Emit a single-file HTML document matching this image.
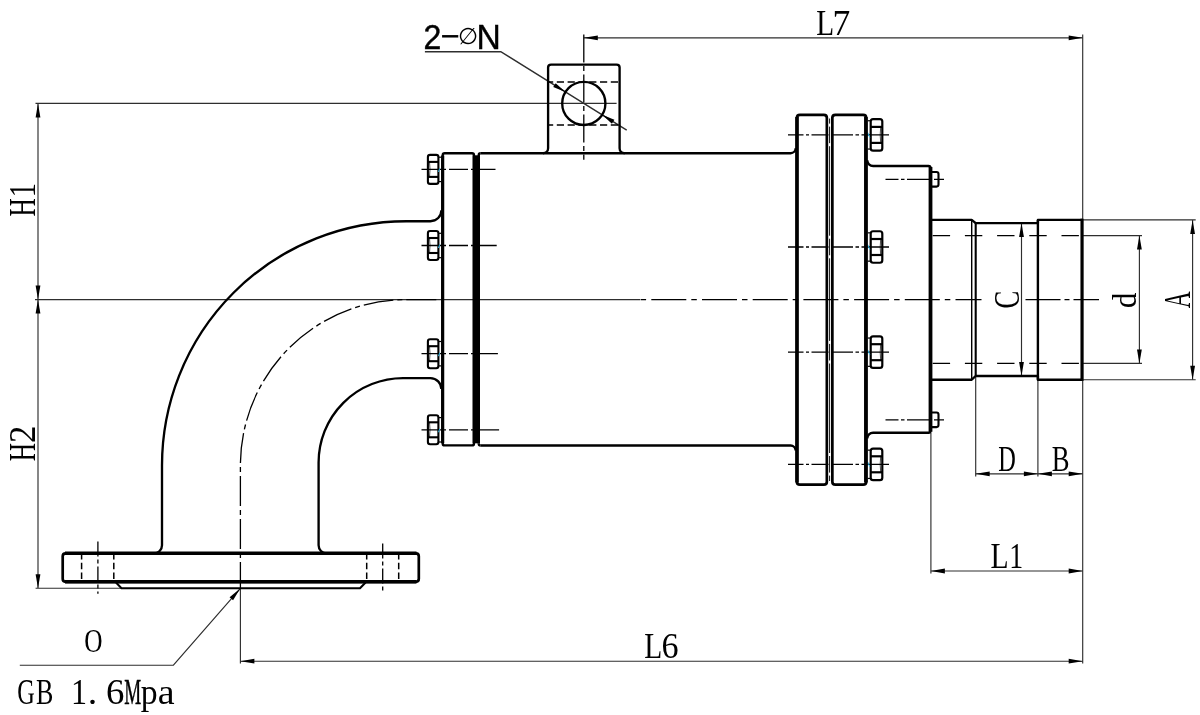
<!DOCTYPE html>
<html lang="en">
<head>
<meta charset="utf-8">
<title>Rotary joint - outline drawing</title>
<style>
html,body{margin:0;padding:0;background:#fff;}
body{width:1200px;height:715px;overflow:hidden;}
svg{display:block;}
.k{fill:none;stroke:#000;stroke-width:2.35;stroke-linecap:butt;stroke-linejoin:round;}
.k2{fill:none;stroke:#000;stroke-width:3.6;stroke-linejoin:round;}
.k3{fill:none;stroke:#000;stroke-width:2;stroke-linejoin:round;}
.n{fill:none;stroke:#000;stroke-width:2.1;stroke-linejoin:round;}
.t{fill:none;stroke:#2e2e2e;stroke-width:1.15;}
.c{fill:none;stroke:#000;stroke-width:1.3;}
.h{fill:none;stroke:#000;stroke-width:1.5;}
</style>
</head>
<body>
<svg width="1200" height="715" viewBox="0 0 1200 715">
<rect x="0" y="0" width="1200" height="715" fill="#fff"/>

<g id="dims">
<line x1="38" y1="103.4" x2="38" y2="588" class="t"/>
<line x1="35.5" y1="103.4" x2="616.6" y2="103.4" class="t"/>
<line x1="35" y1="299.6" x2="640" y2="299.6" class="t"/>
<line x1="35.6" y1="588.2" x2="121.5" y2="588.2" class="t"/>
<polygon points="38,103.4 40.4,117.4 35.6,117.4" fill="#000"/>
<polygon points="38,299.6 35.6,285.6 40.4,285.6" fill="#000"/>
<polygon points="38,299.6 40.4,313.6 35.6,313.6" fill="#000"/>
<polygon points="38,588.2 35.6,574.2 40.4,574.2" fill="#000"/>
<line x1="583.8" y1="37.8" x2="1082.7" y2="37.8" class="t"/>
<polygon points="583.8,37.8 597.8,35.4 597.8,40.2" fill="#000"/>
<polygon points="1082.7,37.8 1068.7,40.2 1068.7,35.4" fill="#000"/>
<line x1="1082.7" y1="34.6" x2="1082.7" y2="663.5" class="t"/>
<line x1="240.4" y1="661.2" x2="1082.7" y2="661.2" class="t"/>
<polygon points="240.4,661.2 254.4,658.8 254.4,663.6" fill="#000"/>
<polygon points="1082.7,661.2 1068.7,663.6 1068.7,658.8" fill="#000"/>
<line x1="240.4" y1="588" x2="240.4" y2="663.5" class="t"/>
<line x1="930.9" y1="571" x2="1082.7" y2="571" class="t"/>
<polygon points="930.9,571 944.9,568.6 944.9,573.4" fill="#000"/>
<polygon points="1082.7,571 1068.7,573.4 1068.7,568.6" fill="#000"/>
<line x1="930.9" y1="432.7" x2="930.9" y2="573.4" class="t"/>
<line x1="975.7" y1="473.8" x2="1082.7" y2="473.8" class="t"/>
<line x1="975.7" y1="376" x2="975.7" y2="476.4" class="t"/>
<line x1="1037.9" y1="379.7" x2="1037.9" y2="476.4" class="t"/>
<polygon points="975.7,473.8 989.7,471.4 989.7,476.2" fill="#000"/>
<polygon points="1037.9,473.8 1023.9,476.2 1023.9,471.4" fill="#000"/>
<polygon points="1037.9,473.8 1051.9,471.4 1051.9,476.2" fill="#000"/>
<polygon points="1082.7,473.8 1068.7,476.2 1068.7,471.4" fill="#000"/>
<line x1="1021.5" y1="223.1" x2="1021.5" y2="376" class="t"/>
<polygon points="1021.5,223.1 1023.9,237.1 1019.1,237.1" fill="#000"/>
<polygon points="1021.5,376 1019.1,362 1023.9,362" fill="#000"/>
<line x1="1139.4" y1="235.6" x2="1139.4" y2="363.4" class="t"/>
<polygon points="1139.4,235.6 1141.8,249.6 1137,249.6" fill="#000"/>
<polygon points="1139.4,363.4 1137,349.4 1141.8,349.4" fill="#000"/>
<line x1="1083" y1="235.6" x2="1142" y2="235.6" class="t"/>
<line x1="1083" y1="363.4" x2="1142" y2="363.4" class="t"/>
<line x1="1192.6" y1="219.9" x2="1192.6" y2="379.7" class="t"/>
<polygon points="1192.6,219.9 1195,233.9 1190.2,233.9" fill="#000"/>
<polygon points="1192.6,379.7 1190.2,365.7 1195,365.7" fill="#000"/>
<line x1="1083" y1="219.9" x2="1195.7" y2="219.9" class="t"/>
<line x1="1083" y1="379.7" x2="1195.7" y2="379.7" class="t"/>
<path d="M424.9 51.7 H500.8 L626.7 130.2" class="t" style="stroke-width:1.4"/>
<polygon points="565.47,91.97 553.22,87.05 555.66,83.14" fill="#000"/>
<polygon points="602.13,114.83 614.38,119.75 611.94,123.66" fill="#000"/>
<path d="M19.8 665.2 H173.4 L240.2 588.6" class="t"/>
<polygon points="240.2,588.6 233.06,600.29 229.59,597.26" fill="#000"/>
</g>
<g id="centre">
<line x1="640" y1="299.6" x2="981.5" y2="299.6" class="c" stroke-dasharray="35 5 5.5 5.2" stroke-dashoffset="-11.3"/>
<line x1="1025.5" y1="299.6" x2="1099" y2="299.6" class="c" stroke-dasharray="35 4 5 4"/>
<path d="M436.3 299.6 H406.3 A165.9 165.9 0 0 0 240.4 465.5 V588" class="c" stroke-dasharray="30 4 5 4"/>
<line x1="583.8" y1="34.6" x2="583.8" y2="159.7" class="c" stroke-dasharray="28 3.5 5 3.5"/>
</g>
<g id="elbow">
<path d="M441.4 210.2 A11 11 0 0 1 430.4 221.2 H406.3 A244.3 244.3 0 0 0 162 465.5 V545.3 A8 8 0 0 1 154 553.3" class="k"/>
<path d="M441.4 389.1 A11 11 0 0 0 430.4 378.1 H403 A84.4 84.4 0 0 0 318.6 462.5 V545.3 A8 8 0 0 0 326.6 553.3" class="k"/>
</g>
<g id="bflange">
<path d="M65.7 553.3 H415.8 Q418.8 553.3 418.8 556.3 V578.8 Q418.8 581.8 415.8 581.8 H65.7 Q62.7 581.8 62.7 578.8 V556.3 Q62.7 553.3 65.7 553.3 Z" class="k" style="stroke-width:2.7"/>
<line x1="65" y1="553.3" x2="416.5" y2="553.3" class="k2"/>
<line x1="65" y1="581.8" x2="416.5" y2="581.8" class="k2"/>
<path d="M116 582.5 L121.5 588.3 H360 L365.6 582.5" class="k3"/>
<line x1="81.6" y1="555" x2="81.6" y2="580" class="h" stroke-dasharray="6.5 3.2" stroke-dashoffset="2"/>
<line x1="113.8" y1="555" x2="113.8" y2="580" class="h" stroke-dasharray="6.5 3.2" stroke-dashoffset="2"/>
<line x1="366.7" y1="555" x2="366.7" y2="580" class="h" stroke-dasharray="6.5 3.2" stroke-dashoffset="2"/>
<line x1="398.7" y1="555" x2="398.7" y2="580" class="h" stroke-dasharray="6.5 3.2" stroke-dashoffset="2"/>
<line x1="97.9" y1="541.4" x2="97.9" y2="593.8" class="c" stroke-dasharray="15 3 4 3"/>
<line x1="382.7" y1="543.4" x2="382.7" y2="592.6" class="c" stroke-dasharray="15 3 4 3"/>
</g>
<g id="nuts">
<rect x="427.9" y="154.9" width="10.5" height="29" rx="2.2" ry="2.2" class="n"/>
<line x1="427.9" y1="161.9" x2="438.4" y2="161.9" class="n"/>
<line x1="427.9" y1="176.9" x2="438.4" y2="176.9" class="n"/>
<path d="M429.5 161.9 Q430.5 169.4 429.5 176.9" class="n" style="stroke-width:0.7"/>
<line x1="438.4" y1="157.2" x2="441.4" y2="157.2" class="n" style="stroke-width:1.2"/>
<line x1="438.4" y1="181.6" x2="441.4" y2="181.6" class="n" style="stroke-width:1.2"/>
<line x1="421.5" y1="169.4" x2="495.5" y2="169.4" class="c" stroke-dasharray="24.5 3 19 3 40"/>
<line x1="438.4" y1="171.9" x2="439.8" y2="168.4" stroke="#29b6e8" stroke-width="1"/>
<rect x="427.9" y="231" width="10.5" height="29" rx="2.2" ry="2.2" class="n"/>
<line x1="427.9" y1="238" x2="438.4" y2="238" class="n"/>
<line x1="427.9" y1="253" x2="438.4" y2="253" class="n"/>
<path d="M429.5 238 Q430.5 245.5 429.5 253" class="n" style="stroke-width:0.7"/>
<line x1="438.4" y1="233.3" x2="441.4" y2="233.3" class="n" style="stroke-width:1.2"/>
<line x1="438.4" y1="257.7" x2="441.4" y2="257.7" class="n" style="stroke-width:1.2"/>
<line x1="421.5" y1="245.5" x2="496.7" y2="245.5" class="c" stroke-dasharray="24.5 3 19 3 40"/>
<line x1="438.4" y1="248" x2="439.8" y2="244.5" stroke="#29b6e8" stroke-width="1"/>
<rect x="427.9" y="339.2" width="10.5" height="29" rx="2.2" ry="2.2" class="n"/>
<line x1="427.9" y1="346.2" x2="438.4" y2="346.2" class="n"/>
<line x1="427.9" y1="361.2" x2="438.4" y2="361.2" class="n"/>
<path d="M429.5 346.2 Q430.5 353.7 429.5 361.2" class="n" style="stroke-width:0.7"/>
<line x1="438.4" y1="341.5" x2="441.4" y2="341.5" class="n" style="stroke-width:1.2"/>
<line x1="438.4" y1="365.9" x2="441.4" y2="365.9" class="n" style="stroke-width:1.2"/>
<line x1="421.5" y1="353.7" x2="497.9" y2="353.7" class="c" stroke-dasharray="24.5 3 19 3 40"/>
<line x1="438.4" y1="356.2" x2="439.8" y2="352.7" stroke="#29b6e8" stroke-width="1"/>
<rect x="427.9" y="415.3" width="10.5" height="29" rx="2.2" ry="2.2" class="n"/>
<line x1="427.9" y1="422.3" x2="438.4" y2="422.3" class="n"/>
<line x1="427.9" y1="437.3" x2="438.4" y2="437.3" class="n"/>
<path d="M429.5 422.3 Q430.5 429.8 429.5 437.3" class="n" style="stroke-width:0.7"/>
<line x1="438.4" y1="417.6" x2="441.4" y2="417.6" class="n" style="stroke-width:1.2"/>
<line x1="438.4" y1="442" x2="441.4" y2="442" class="n" style="stroke-width:1.2"/>
<line x1="421.5" y1="429.8" x2="499.1" y2="429.8" class="c" stroke-dasharray="24.5 3 19 3 40"/>
<line x1="438.4" y1="432.3" x2="439.8" y2="428.8" stroke="#29b6e8" stroke-width="1"/>
<rect x="870.7" y="119.15" width="11.6" height="31.5" rx="2.4" ry="2.4" class="n" style="stroke-width:2.2"/>
<line x1="870.7" y1="126.9" x2="882.3" y2="126.9" class="n" style="stroke-width:2.2"/>
<line x1="870.7" y1="142.9" x2="882.3" y2="142.9" class="n" style="stroke-width:2.2"/>
<path d="M880.7 126.9 Q879.7 134.9 880.7 142.9" class="n" style="stroke-width:0.7"/>
<line x1="870.7" y1="120.75" x2="867.6" y2="120.75" class="n" style="stroke-width:1.2"/>
<line x1="870.7" y1="149.05" x2="867.6" y2="149.05" class="n" style="stroke-width:1.2"/>
<line x1="788" y1="134.9" x2="889" y2="134.9" class="c" stroke-dasharray="15.5 2.5 3 2.5 17 3.5 21 2.5 3.5 2.5 40"/>
<line x1="867.6" y1="132.4" x2="869.8" y2="137.4" stroke="#29b6e8" stroke-width="1"/>
<rect x="870.7" y="231.25" width="11.6" height="31.5" rx="2.4" ry="2.4" class="n" style="stroke-width:2.2"/>
<line x1="870.7" y1="239" x2="882.3" y2="239" class="n" style="stroke-width:2.2"/>
<line x1="870.7" y1="255" x2="882.3" y2="255" class="n" style="stroke-width:2.2"/>
<path d="M880.7 239 Q879.7 247 880.7 255" class="n" style="stroke-width:0.7"/>
<line x1="870.7" y1="232.85" x2="867.6" y2="232.85" class="n" style="stroke-width:1.2"/>
<line x1="870.7" y1="261.15" x2="867.6" y2="261.15" class="n" style="stroke-width:1.2"/>
<line x1="788" y1="247" x2="889" y2="247" class="c" stroke-dasharray="15.5 2.5 3 2.5 17 3.5 21 2.5 3.5 2.5 40"/>
<line x1="867.6" y1="244.5" x2="869.8" y2="249.5" stroke="#29b6e8" stroke-width="1"/>
<rect x="870.7" y="336.45" width="11.6" height="31.5" rx="2.4" ry="2.4" class="n" style="stroke-width:2.2"/>
<line x1="870.7" y1="344.2" x2="882.3" y2="344.2" class="n" style="stroke-width:2.2"/>
<line x1="870.7" y1="360.2" x2="882.3" y2="360.2" class="n" style="stroke-width:2.2"/>
<path d="M880.7 344.2 Q879.7 352.2 880.7 360.2" class="n" style="stroke-width:0.7"/>
<line x1="870.7" y1="338.05" x2="867.6" y2="338.05" class="n" style="stroke-width:1.2"/>
<line x1="870.7" y1="366.35" x2="867.6" y2="366.35" class="n" style="stroke-width:1.2"/>
<line x1="788" y1="352.2" x2="889" y2="352.2" class="c" stroke-dasharray="15.5 2.5 3 2.5 17 3.5 21 2.5 3.5 2.5 40"/>
<line x1="867.6" y1="349.7" x2="869.8" y2="354.7" stroke="#29b6e8" stroke-width="1"/>
<rect x="870.7" y="448.55" width="11.6" height="31.5" rx="2.4" ry="2.4" class="n" style="stroke-width:2.2"/>
<line x1="870.7" y1="456.3" x2="882.3" y2="456.3" class="n" style="stroke-width:2.2"/>
<line x1="870.7" y1="472.3" x2="882.3" y2="472.3" class="n" style="stroke-width:2.2"/>
<path d="M880.7 456.3 Q879.7 464.3 880.7 472.3" class="n" style="stroke-width:0.7"/>
<line x1="870.7" y1="450.15" x2="867.6" y2="450.15" class="n" style="stroke-width:1.2"/>
<line x1="870.7" y1="478.45" x2="867.6" y2="478.45" class="n" style="stroke-width:1.2"/>
<line x1="788" y1="464.3" x2="889" y2="464.3" class="c" stroke-dasharray="15.5 2.5 3 2.5 17 3.5 21 2.5 3.5 2.5 40"/>
<line x1="867.6" y1="461.8" x2="869.8" y2="466.8" stroke="#29b6e8" stroke-width="1"/>
</g>
<g id="body">
<path d="M472 153.2 H444.7 Q442.7 153.2 442.7 155.2 V443.4 Q442.7 445.4 444.7 445.4 H472 Q474 445.4 474 443.4 V155.2 Q474 153.2 472 153.2 Z" class="k"/>
<line x1="442.65" y1="155.5" x2="442.65" y2="443.2" class="k2" style="stroke-width:3.2"/>
<rect x="472.6" y="155.3" width="7.4" height="288" fill="#000"/>
<path d="M478.7 443.5 V155.2 Q478.7 153.2 480.7 153.2" class="k"/>
<path d="M478.7 443.5 Q478.7 445.5 480.7 445.5" class="k"/>
<path d="M480.7 153.2 H790.6 A5 5 0 0 0 795.6 148.2" class="k"/>
<path d="M543.1 153.2 A5 5 0 0 0 548.1 148.2 V67.6 Q548.1 64.6 551.1 64.6 H616.6 Q619.6 64.6 619.6 67.6 V148.2 A5 5 0 0 0 624.6 153.2" class="k"/>
<path d="M480.7 445.5 H790.6 A5 5 0 0 1 795.6 450.5" class="k"/>
<circle cx="583.8" cy="103.4" r="21.6" class="k"/>
<line x1="549" y1="82" x2="619.5" y2="82" class="h" stroke-dasharray="7.2 3.6" stroke-dashoffset="3"/>
<line x1="549" y1="125.1" x2="619.5" y2="125.1" class="h" stroke-dasharray="7.2 3.6" stroke-dashoffset="3"/>
</g>
<g id="rflange">
<path d="M799.9 114.8 H823.85 Q826.85 114.8 826.85 117.8 V481.7 Q826.85 484.7 823.85 484.7 H799.9 Q796.9 484.7 796.9 481.7 V117.8 Q796.9 114.8 799.9 114.8 Z" class="k" style="stroke-width:2.7"/>
<path d="M835.35 114.8 H863.2 Q866.2 114.8 866.2 117.8 V481.7 Q866.2 484.7 863.2 484.7 H835.35 Q832.35 484.7 832.35 481.7 V117.8 Q832.35 114.8 835.35 114.8 Z" class="k" style="stroke-width:2.7"/>
<line x1="797" y1="117" x2="797" y2="482.5" class="k2" style="stroke-width:3.6"/>
<line x1="865.9" y1="117" x2="865.9" y2="482.5" class="k2" style="stroke-width:3.7"/>
<line x1="829.6" y1="118.5" x2="829.6" y2="123.6" class="c" style="stroke-width:0.95"/>
<line x1="829.6" y1="126.6" x2="829.6" y2="143.2" class="c" style="stroke-width:0.95"/>
<line x1="829.6" y1="146.2" x2="829.6" y2="235.7" class="c" style="stroke-width:0.95"/>
<line x1="829.6" y1="238.7" x2="829.6" y2="255.3" class="c" style="stroke-width:0.95"/>
<line x1="829.6" y1="258.3" x2="829.6" y2="340.9" class="c" style="stroke-width:0.95"/>
<line x1="829.6" y1="343.9" x2="829.6" y2="360.5" class="c" style="stroke-width:0.95"/>
<line x1="829.6" y1="363.5" x2="829.6" y2="453" class="c" style="stroke-width:0.95"/>
<line x1="829.6" y1="456" x2="829.6" y2="472.6" class="c" style="stroke-width:0.95"/>
<line x1="829.6" y1="475.6" x2="829.6" y2="481" class="c" style="stroke-width:0.95"/>
<path d="M867.3 160.2 A5.8 5.8 0 0 0 873.1 166 H928.5 Q930.5 166 930.5 168 V430.7 Q930.5 432.7 928.5 432.7 H873.1 A5.8 5.8 0 0 0 867.3 438.5" class="k"/>
<line x1="930.5" y1="167" x2="930.5" y2="431.7" class="k2" style="stroke-width:3.8"/>
<path d="M931 172 H936.5 Q938.5 172 938.5 174 V184.6 Q938.5 186.6 936.5 186.6 H931" class="n"/>
<line x1="885.5" y1="179.3" x2="944" y2="179.3" class="c" stroke-dasharray="13 2.5 3.5 2.5 24 3 40"/>
<path d="M931 412.5 H936.5 Q938.5 412.5 938.5 414.5 V425.1 Q938.5 427.1 936.5 427.1 H931" class="n"/>
<line x1="885.5" y1="419.8" x2="944" y2="419.8" class="c" stroke-dasharray="13 2.5 3.5 2.5 24 3 40"/>
</g>
<g id="shaft">
<path d="M932 219.9 H971.7 L975.7 223.1 H1037.9 V219.9 H1082" class="k"/>
<path d="M932 379.7 H971.7 L975.7 376 H1037.9 V379.7 H1082" class="k"/>
<line x1="971.7" y1="219.9" x2="971.7" y2="379.7" class="n" style="stroke-width:1.4"/>
<line x1="975.7" y1="223.1" x2="975.7" y2="376" class="n" style="stroke-width:2.1"/>
<line x1="1037.9" y1="219.9" x2="1037.9" y2="379.7" class="k" style="stroke-width:2.4"/>
<line x1="1082" y1="218.7" x2="1082" y2="380.9" class="k2" style="stroke-width:3.1"/>
<line x1="932.7" y1="235.6" x2="1082" y2="235.6" class="h" stroke-dasharray="17.4 14.8" style="stroke-width:1.4"/>
<line x1="932.7" y1="363.4" x2="1082" y2="363.4" class="h" stroke-dasharray="17.4 14.8" style="stroke-width:1.4"/>
</g>
<g id="labels" style="opacity:0.999">
<text y="48.8" font-family='"Liberation Sans", sans-serif' font-size="35" fill="#000"><tspan x="423.5" stroke="#000" stroke-width="0.45" textLength="17.81" lengthAdjust="spacingAndGlyphs">2</tspan><tspan x="440.37" y="47.6" textLength="19.47" lengthAdjust="spacingAndGlyphs">−</tspan><tspan x="458.05" y="44" font-family='"DejaVu Sans", sans-serif' font-size="22.8" textLength="20.11" lengthAdjust="spacingAndGlyphs">∅</tspan><tspan x="476.44" y="48.8" font-size="34.7" stroke="#000" stroke-width="0.45" textLength="24.29" lengthAdjust="spacingAndGlyphs">N</tspan></text>
<text y="35.2" font-family='"Liberation Serif", serif' font-size="36.8" fill="#000"><tspan x="816.25" textLength="17.9" lengthAdjust="spacingAndGlyphs">L</tspan><tspan x="832.55" textLength="17.78" lengthAdjust="spacingAndGlyphs">7</tspan></text>
<text y="658" font-family='"Liberation Serif", serif' font-size="36.3" fill="#000"><tspan x="644.14" textLength="18.02" lengthAdjust="spacingAndGlyphs">L</tspan><tspan x="661.43" textLength="17.1" lengthAdjust="spacingAndGlyphs">6</tspan></text>
<text y="568" font-family='"Liberation Serif", serif' font-size="36.3" fill="#000"><tspan x="990.44" textLength="18.14" lengthAdjust="spacingAndGlyphs">L</tspan><tspan x="1009.25" textLength="13.92" lengthAdjust="spacingAndGlyphs">1</tspan></text>
<text y="470.6" font-family='"Liberation Serif", serif' font-size="34.8" fill="#000"><tspan x="998.19" textLength="17.58" lengthAdjust="spacingAndGlyphs">D</tspan></text>
<text y="470.6" font-family='"Liberation Serif", serif' font-size="34.8" fill="#000"><tspan x="1051.83" textLength="17.78" lengthAdjust="spacingAndGlyphs">B</tspan></text>
<text y="652" font-family='"Liberation Serif", serif' font-size="34.2" fill="#000"><tspan x="84.26" textLength="18.28" lengthAdjust="spacingAndGlyphs">O</tspan></text>
<text y="704" font-family='"Liberation Serif", serif' font-size="35.6" fill="#000"><tspan x="17.2" textLength="17.55" lengthAdjust="spacingAndGlyphs">G</tspan><tspan x="35.95" textLength="17.33" lengthAdjust="spacingAndGlyphs">B</tspan> <tspan x="70.88" textLength="16.05" lengthAdjust="spacingAndGlyphs">1</tspan><tspan x="87.68" textLength="9.53" lengthAdjust="spacingAndGlyphs">.</tspan><tspan x="105.92" textLength="18.38" lengthAdjust="spacingAndGlyphs">6</tspan><tspan x="124.15" stroke="#000" stroke-width="0.5" textLength="16.91" lengthAdjust="spacingAndGlyphs">M</tspan><tspan x="140.66" textLength="16.85" lengthAdjust="spacingAndGlyphs">p</tspan><tspan x="157.87" textLength="16.85" lengthAdjust="spacingAndGlyphs">a</tspan></text>
<text transform="translate(34.9 0) rotate(-90)" y="0" font-family='"Liberation Serif", serif' font-size="37.2" fill="#000"><tspan x="-216.53" textLength="18.27" lengthAdjust="spacingAndGlyphs">H</tspan><tspan x="-197.33" textLength="14.35" lengthAdjust="spacingAndGlyphs">1</tspan></text>
<text transform="translate(34.9 0) rotate(-90)" y="0" font-family='"Liberation Serif", serif' font-size="37.2" fill="#000"><tspan x="-461.13" textLength="18.27" lengthAdjust="spacingAndGlyphs">H</tspan><tspan x="-443.03" textLength="17.33" lengthAdjust="spacingAndGlyphs">2</tspan></text>
<text transform="translate(1018.5 0) rotate(-90)" y="0" font-family='"Liberation Serif", serif' font-size="35.4" fill="#000"><tspan x="-308.39" textLength="17.76" lengthAdjust="spacingAndGlyphs">C</tspan></text>
<text transform="translate(1135.8 0) rotate(-90)" y="0" font-family='"Liberation Serif", serif' font-size="33.8" fill="#000"><tspan x="-307.9" textLength="15.27" lengthAdjust="spacingAndGlyphs">d</tspan></text>
<text transform="translate(1189.9 0) rotate(-90)" y="0" font-family='"Liberation Serif", serif' font-size="37" fill="#000"><tspan x="-308.23" textLength="16.9" lengthAdjust="spacingAndGlyphs">A</tspan></text>
</g>
</svg>
</body>
</html>
